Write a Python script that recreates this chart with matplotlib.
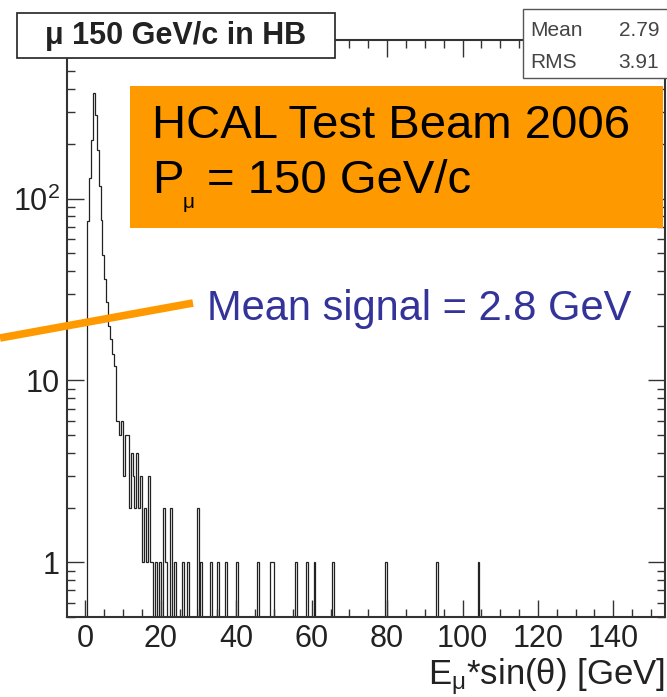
import numpy as np
import matplotlib
matplotlib.use("Agg")
import matplotlib.pyplot as plt
from matplotlib.patches import Rectangle
from matplotlib.lines import Line2D
from matplotlib.ticker import MultipleLocator, LogLocator, NullFormatter

plt.rcParams["font.family"] = ["Liberation Sans", "DejaVu Sans"]
plt.rcParams["mathtext.fontset"] = "custom"
plt.rcParams["mathtext.rm"] = "Liberation Sans"
plt.rcParams["mathtext.it"] = "Liberation Sans:italic"
plt.rcParams["mathtext.bf"] = "Liberation Sans:bold"

W, H = 667, 697

# histogram binning (GeV)
bin_width = 0.5
x_max = 150.0

# entries per 0.5 GeV bin, 0 - 20 GeV
core_counts = [0, 75, 130, 210, 380, 290, 185, 118, 76, 49,
               36, 27, 20, 17, 14, 12, 6, 6, 5, 6,
               3, 5, 5, 2, 4, 3, 2, 4, 2, 3,
               1, 2, 1, 3, 1, 1, 0, 1, 0, 1]
# isolated entries above 20 GeV
tail_energies = [20.6, 21.3, 22.8, 23.7, 25.5, 27.3, 29.5, 30.9, 33.1, 35.0,
                 37.2, 40.3, 45.5, 49.1, 49.9, 55.7, 58.8, 60.8, 65.9, 79.7,
                 93.1, 104.2]
tail_counts = [2, 1, 2, 1, 1, 1, 2, 1, 1, 1,
               1, 1, 1, 1, 1, 1, 1, 1, 1, 1,
               1, 1]

x_ticks = [0, 20, 40, 60, 80, 100, 120, 140]
y_ticks = [1, 10, 100]
y_tick_labels = ["1", "10", r"10$^{2}$"]

edges = np.arange(0, x_max + bin_width / 2, bin_width)
counts = np.zeros(len(edges) - 1)
counts[:len(core_counts)] = core_counts
for e, n in zip(tail_energies, tail_counts):
    counts[int(e // bin_width)] += n


def fx(px):
    return px / W


def fy(py):
    return 1 - py / H


fig = plt.figure(figsize=(W / 100, H / 100), dpi=100)
ax = fig.add_axes([fx(67), fy(617), (665 - 67) / W, (617 - 40) / H])

ax.stairs(np.where(counts > 0, counts, 1e-3), edges, baseline=1e-3,
          color="#222222", lw=0.9)

ax.set_yscale("log")
ax.set_xlim(-4.9, 153.7)
ax.set_ylim(0.5, 745)
ax.set_xticks(x_ticks)
ax.xaxis.set_minor_locator(MultipleLocator(5))
ax.set_yticks(y_ticks, labels=y_tick_labels)
ax.yaxis.set_minor_locator(LogLocator(subs=np.arange(2, 10)))
ax.yaxis.set_minor_formatter(NullFormatter())
ax.tick_params(which="both", direction="in", top=True, right=True,
               labelsize=22, color="#333333", labelcolor="#222222")
ax.tick_params(which="major", length=12, width=1)
ax.tick_params(which="minor", length=6, width=1)
ax.tick_params(axis="x", pad=5)
ax.tick_params(axis="y", pad=5)
for s in ax.spines.values():
    s.set_linewidth(1.5)
    s.set_color("#333333")

fig.text(fx(665), fy(684), "E$_{\\mathrm{\u03bc}}$*sin(\u03b8) [GeV]",
         fontsize=25, ha="right", va="baseline", color="#222222")

# title box
fig.add_artist(Rectangle((fx(17), fy(58)), (335 - 17) / W, (58 - 13) / H,
                         transform=fig.transFigure, facecolor="white",
                         edgecolor="#333333", lw=1.3, zorder=5))
fig.text(fx(176), fy(36), "\u03bc 150 GeV/c in HB", fontsize=22,
         fontweight="bold", ha="center", va="center", zorder=6,
         color="#222222")

# stats box
fig.add_artist(Rectangle((fx(523), fy(78)), (680 - 523) / W, (78 - 9) / H,
                         transform=fig.transFigure, facecolor="white",
                         edgecolor="#555555", lw=1.0, zorder=5))
for y, name, val in [(30, "Mean", "2.79"), (63, "RMS", "3.91")]:
    fig.text(fx(530), fy(y), name, fontsize=15, color="#444444",
             ha="left", va="center", zorder=6)
    fig.text(fx(659), fy(y), val, fontsize=15, color="#444444",
             ha="right", va="center", zorder=6)

# orange annotation box
orange = "#FF9900"
fig.add_artist(Rectangle((fx(130), fy(228)), (663 - 130) / W, (228 - 86) / H,
                         transform=fig.transFigure, facecolor=orange,
                         edgecolor="none", zorder=5))
fig.text(fx(152), fy(138), "HCAL Test Beam 2006", fontsize=34,
         ha="left", va="baseline", zorder=6)
fig.text(fx(152), fy(193), "P", fontsize=34, ha="left", va="baseline", zorder=6)
fig.text(fx(183), fy(208), "\u03bc", fontsize=15, ha="left", va="baseline", zorder=6)
fig.text(fx(207), fy(193), "= 150 GeV/c", fontsize=34, ha="left",
         va="baseline", zorder=6)

# pointer line and mean label
fig.add_artist(Line2D([fx(0), fx(193)], [fy(338), fy(303)],
                      transform=fig.transFigure, color=orange, lw=5.5,
                      solid_capstyle="butt", zorder=5))
fig.text(fx(207), fy(320), "Mean signal = 2.8 GeV", fontsize=30,
         color="#333399", ha="left", va="baseline", zorder=6)

fig.savefig("out.png", dpi=100)
